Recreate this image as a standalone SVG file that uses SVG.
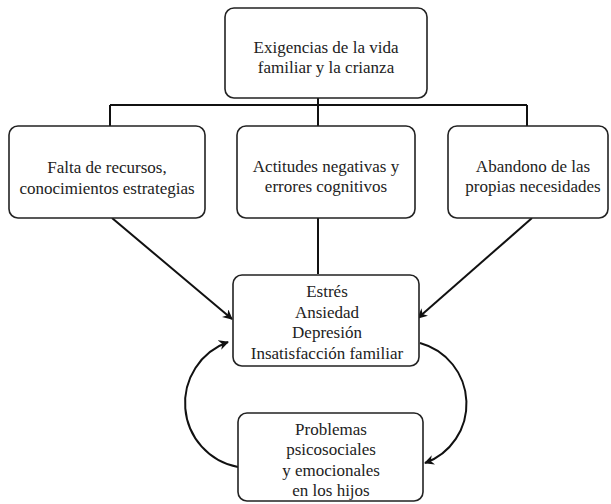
<svg xmlns="http://www.w3.org/2000/svg" width="611" height="504" viewBox="0 0 611 504">
<style>
.box{fill:#fff;stroke:#222;stroke-width:1.6}
.t{font-family:'Liberation Serif','Times New Roman','DejaVu Serif',serif;font-size:17px;fill:#222;text-anchor:middle}
.ln{fill:none;stroke:#111;stroke-width:2}
</style>
<defs>
<marker id="ah" viewBox="0 0 10 10" refX="9" refY="5" markerWidth="5" markerHeight="5" orient="auto" markerUnits="strokeWidth">
<path d="M0,0 L10,5 L0,10 L3,5 z" fill="#111"/>
</marker>
</defs>
<rect width="611" height="504" fill="#fff"/>
<g id="connectors">
<path class="ln" d="M318,98 V105 M110,105 H527 M110,105 V126 M318,105 V126 M527,105 V126 M318,218 V274"/>
<path class="ln" d="M112,218 L232,319" marker-end="url(#ah)"/>
<path class="ln" d="M532,218 L418,318" marker-end="url(#ah)"/>
<path class="ln" d="M238,467 A65,65 0 0 1 228,342" marker-end="url(#ah)"/>
<path class="ln" d="M420,343 A63,63 0 0 1 425,463" marker-end="url(#ah)"/>
</g>
<g id="n-exigencias">
<rect class="box" x="225" y="8" width="202" height="90" rx="9"/>
<text class="t" x="326" y="53" font-family="Liberation Serif, serif">Exigencias de la vida</text>
<text class="t" x="326" y="73">familiar y la crianza</text>
</g>
<g id="n-falta">
<rect class="box" x="9" y="126" width="196" height="92" rx="9"/>
<text class="t" x="107" y="173">Falta de recursos,</text>
<text class="t" x="107" y="194">conocimientos estrategias</text>
</g>
<g id="n-actitudes">
<rect class="box" x="237" y="126" width="178" height="92" rx="9"/>
<text class="t" x="326" y="172">Actitudes negativas y</text>
<text class="t" x="326" y="192">errores cognitivos</text>
</g>
<g id="n-abandono">
<rect class="box" x="448" y="126" width="160" height="92" rx="9"/>
<text class="t" x="533" y="172">Abandono de las</text>
<text class="t" x="533" y="192">propias necesidades</text>
</g>
<g id="n-estres">
<rect class="box" x="233" y="275" width="186" height="91" rx="9"/>
<text class="t" x="327" y="297">Estrés</text>
<text class="t" x="327" y="317.5">Ansiedad</text>
<text class="t" x="327" y="338">Depresión</text>
<text class="t" x="327" y="358.5">Insatisfacción familiar</text>
</g>
<g id="n-problemas">
<rect class="box" x="238" y="413" width="185" height="88" rx="9"/>
<text class="t" x="331" y="435">Problemas</text>
<text class="t" x="331" y="455">psicosociales</text>
<text class="t" x="331" y="475.5">y emocionales</text>
<text class="t" x="331" y="495.5">en los hijos</text>
</g>
</svg>
